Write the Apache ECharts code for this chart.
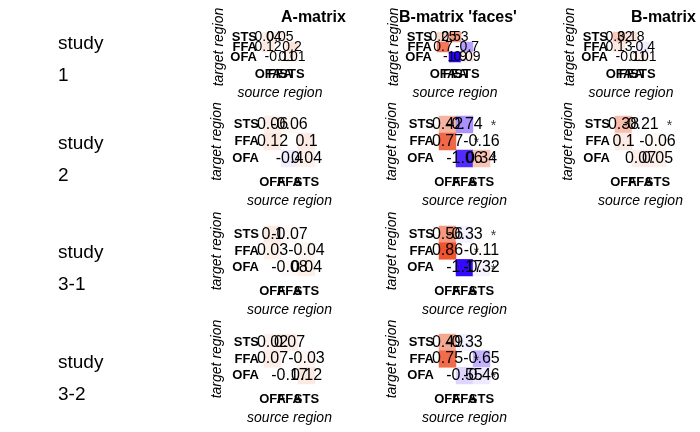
<!DOCTYPE html>
<html><head><meta charset="utf-8">
<script src="https://cdn.jsdelivr.net/npm/echarts@6/dist/echarts.min.js"></script>
<style>html,body{margin:0;background:#fff}#c{width:700px;height:432px}</style>
</head><body><div id="c"></div>
<script>
// source regions (x) and target regions (y)
const sources = ['OFA', 'FFA', 'STS'];
const targets = ['OFA', 'FFA', 'STS'];
const studies = ['study\n1', 'study\n2', 'study\n3-1', 'study\n3-2'];
const titles = ['A-matrix', "B-matrix 'faces'", 'B-matrix'];

// values: [sourceIdx, targetIdx, value]
const a1 = [[0,2,0.04],[1,2,0.05],[0,1,0.12],[2,1,0.20],[1,0,-0.11],[2,0,0.01]];
const bf1 = [[0,2,0.25],[1,2,0.53],[0,1,0.70],[2,1,-0.70],[1,0,-1.90],[2,0,0.09]];
const bc1 = [[0,2,0.32],[1,2,0.18],[0,1,0.13],[2,1,-0.40],[1,0,-0.11],[2,0,0.01]];
const a2 = [[0,2,0.06],[1,2,-0.06],[0,1,0.12],[2,1,0.10],[1,0,-0.40],[2,0,0.04]];
const bf2 = [[0,2,0.42],[1,2,-0.74],[0,1,0.77],[2,1,-0.16],[1,0,-1.06],[2,0,0.34]];
const bc2 = [[0,2,0.38],[1,2,-0.21],[0,1,0.10],[2,1,-0.06],[1,0,0.07],[2,0,0.05]];
const a3 = [[0,2,0.10],[1,2,-0.07],[0,1,0.03],[2,1,-0.04],[1,0,-0.08],[2,0,0.04]];
const bf3 = [[0,2,0.56],[1,2,-0.33],[0,1,0.86],[2,1,-0.11],[1,0,-1.17],[2,0,-0.32]];
const a4 = [[0,2,0.02],[1,2,0.07],[0,1,0.07],[2,1,-0.03],[1,0,-0.17],[2,0,0.12]];
const bf4 = [[0,2,0.49],[1,2,-0.33],[0,1,0.75],[2,1,-0.65],[1,0,-0.55],[2,0,-0.46]];
// significance stars: [sourceIdx, targetIdx]
const starsBf2 = [[2,2],[1,1],[2,0]];
const starsBc2 = [[2,2]];
const starsBf3 = [[2,2],[1,1],[2,0]];
const starsBf4 = [[1,1],[2,0]];

const panels = [
  {row:0,col:0,data:a1,stars:[]},{row:0,col:1,data:bf1,stars:[]},{row:0,col:2,data:bc1,stars:[]},
  {row:1,col:0,data:a2,stars:[]},{row:1,col:1,data:bf2,stars:starsBf2},{row:1,col:2,data:bc2,stars:starsBc2},
  {row:2,col:0,data:a3,stars:[]},{row:2,col:1,data:bf3,stars:starsBf3},
  {row:3,col:0,data:a4,stars:[]},{row:3,col:1,data:bf4,stars:starsBf4}
];

const colLeft = [264, 439, 615];
const rowTop = [32, 116, 226, 334];
const rowH = [30, 51, 50, 50];

const grid = [], xAxis = [], yAxis = [], series = [];
panels.forEach((p, i) => {
  const small = p.row === 0;
  const w = small ? 36 : 51;
  grid.push({left: colLeft[p.col] - (small ? 2 : 0), top: rowTop[p.row], width: w, height: rowH[p.row]});
  xAxis.push({type:'category', data:sources, gridIndex:i,
    axisLine:{show:false}, axisTick:{length:4, lineStyle:{color:'#333'}},
    axisLabel:{fontWeight:'bold', fontSize:13, color:'#000', margin: small ? 6 : 9, interval:0},
    name:'source region', nameLocation:'middle', nameGap: small ? 24 : 27,
    nameTextStyle:{fontStyle:'italic', fontSize:14, color:'#000'}});
  yAxis.push({type:'category', data:targets, gridIndex:i,
    axisLine:{show:false}, axisTick:{length:4, lineStyle:{color:'#333'}},
    axisLabel:{fontWeight:'bold', fontSize:13, color:'#000', margin:5, interval:0},
    name:'target region', nameLocation:'middle', nameRotate:90, nameGap: small ? 26 : 40,
    nameTextStyle:{fontStyle:'italic', fontSize:14, color:'#000'}});
  series.push({type:'heatmap', xAxisIndex:i, yAxisIndex:i, data:p.data,
    label:{show:true, fontSize: small ? 14 : 16, color:'#000',
      formatter: d => String(d.value[2])}});
  series.push({type:'scatter', xAxisIndex:i, yAxisIndex:i, data:p.stars, symbolSize:0,
    label:{show:true, formatter:'*', fontSize:14, color:'#000', offset:[12,2]}});
});

const graphic = [];
studies.forEach((s, r) => {
  const cy = [56, 156, 265, 375][r];
  graphic.push({type:'text', left:58, top:cy - 28,
    style:{text:s, fontSize:19, fill:'#000', align:'center', lineHeight:32, font:'19px Liberation Sans'}});
});

const option = {
  animation:false,
  title: titles.map((t, i) => ({text:t, left:[276, 394, 626][i], top:5,
    textStyle:{fontSize:16, fontWeight:'bold', color:'#000'}})),
  grid, xAxis, yAxis, series, graphic,
  visualMap:{show:false, min:-1.2, max:0.9, seriesIndex: series.map((s,i)=>i).filter(i=>i%2===0),
    inRange:{color:['#2a00ff','#8f6cff','#ece6ff','#ffffff','#fbe3da','#f59a80','#ee4a24']}}
};
const chart = echarts.init(document.getElementById('c'));
chart.setOption(option);
</script></body></html>
